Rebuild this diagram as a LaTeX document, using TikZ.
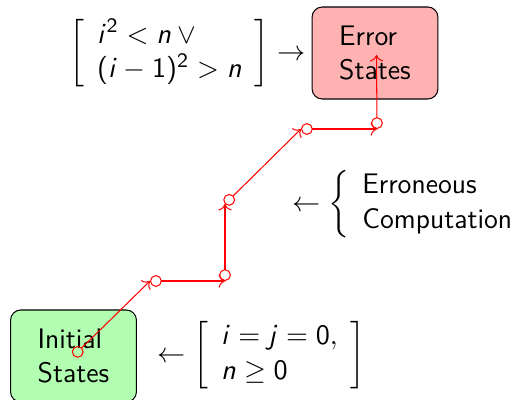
\documentclass[tikz,border=0pt]{standalone}
\usepackage{amsmath}
\usepackage{exscale}
\usetikzlibrary{arrows.meta}
\renewcommand{\familydefault}{\sfdefault}
\DeclareSymbolFont{sfop}{OT1}{cmss}{m}{n}
\DeclareSymbolFont{sfit}{OT1}{cmss}{m}{sl}
\DeclareMathSymbol{i}{\mathalpha}{sfit}{`i}
\DeclareMathSymbol{j}{\mathalpha}{sfit}{`j}
\DeclareMathSymbol{n}{\mathalpha}{sfit}{`n}
\DeclareMathSymbol{0}{\mathalpha}{sfop}{`0}
\DeclareMathSymbol{1}{\mathalpha}{sfop}{`1}
\DeclareMathSymbol{2}{\mathalpha}{sfop}{`2}
\DeclareMathSymbol{(}{\mathopen}{sfop}{`(}
\DeclareMathSymbol{)}{\mathclose}{sfop}{`)}
\begin{document}
\begin{tikzpicture}[x=0.3891pt,y=-0.3891pt,
  font=\fontsize{11}{13.6}\selectfont,
  statebox/.style={draw=black, rounded corners=4pt, minimum width=49pt,
    minimum height=35.8pt, align=left},
  label/.style={inner sep=0pt},
  trace/.style={draw=red, {Circle[open,length=4.6pt]}->}]
\useasboundingbox (0,0) rectangle (522,399);
\node[statebox, fill=red!30] (err) at (375,53) {Error\\States};
\node[statebox, fill=green!30] (init) at (73.5,356) {Initial\\States};
\node[label, anchor=east] (errcond) at (306,53.5)
  {$\biggl[\begin{array}{l} i^2<n\vee{}\\ (i-1)^2>n\end{array}\biggr]\rightarrow$};
\node[label, anchor=west] (initcond) at (157,355)
  {$\leftarrow\biggl[\begin{array}{l} i=j=0,\\ n\geq 0\end{array}\biggr]$};
\node[label, anchor=west] (errcomp) at (292,204)
  {$\leftarrow\biggl\{\begin{array}{l}\text{Erroneous}\\ \text{Computation}\end{array}$};
\coordinate (c1) at (150,281);
\coordinate (c2) at (225,281);
\coordinate (c3) at (225,204);
\coordinate (c4) at (301,129);
\coordinate (c5) at (377,129);
\coordinate (c6) at (376.5,55);
\draw[trace] (init.center) -- (c1);
\draw[trace] (c1) -- (c2);
\draw[trace] (c2) -- (c3);
\draw[trace] (c3) -- (c4);
\draw[trace] (c4) -- (c5);
\draw[trace] (c5) -- (c6);
\end{tikzpicture}
\end{document}
